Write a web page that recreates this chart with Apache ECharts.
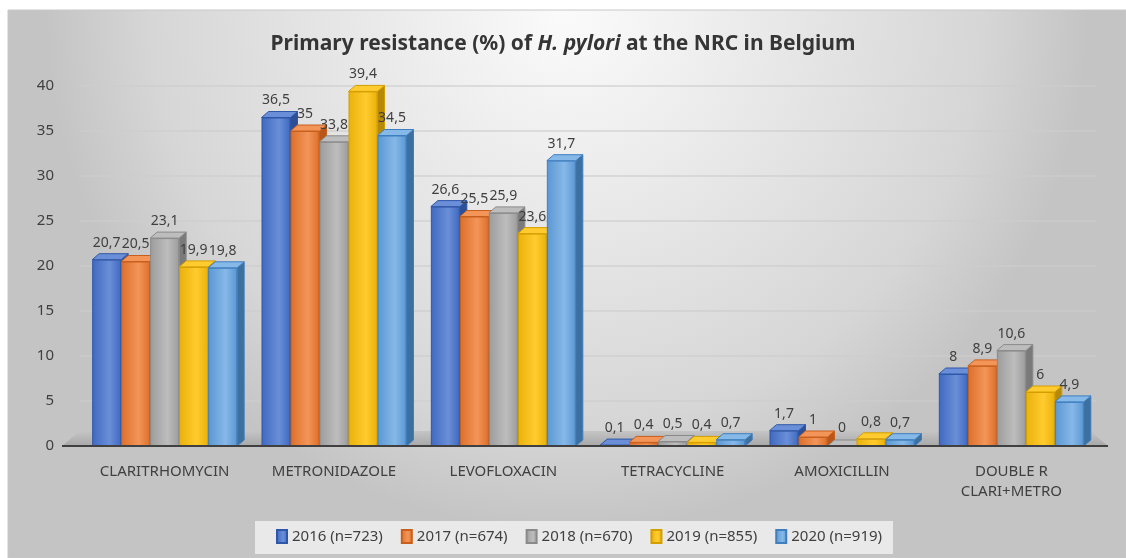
<!DOCTYPE html>
<html>
<head>
<meta charset="utf-8">
<script src="https://cdn.jsdelivr.net/npm/echarts@6/dist/echarts.min.js"></script>
<style>
  html, body { margin: 0; padding: 0; background: #fff; }
  #chart { width: 1126px; height: 558px; }
</style>
</head>
<body>
<div id="chart"></div>
<script>
// data
var categories = ['CLARITRHOMYCIN', 'METRONIDAZOLE', 'LEVOFLOXACIN', 'TETRACYCLINE', 'AMOXICILLIN', 'DOUBLE R\nCLARI+METRO'];
var seriesNames = ['2016 (n=723)', '2017 (n=674)', '2018 (n=670)', '2019 (n=855)', '2020 (n=919)'];
var v2016 = [20.7, 36.5, 26.6, 0.1, 1.7, 8];
var v2017 = [20.5, 35, 25.5, 0.4, 1, 8.9];
var v2018 = [23.1, 33.8, 25.9, 0.5, 0, 10.6];
var v2019 = [19.9, 39.4, 23.6, 0.4, 0.8, 6];
var v2020 = [19.8, 34.5, 31.7, 0.7, 0.7, 4.9];
var yTicks = [0, 5, 10, 15, 20, 25, 30, 35, 40];

var values = [v2016, v2017, v2018, v2019, v2020];
// front / light / edge / cap colours per year
var colors = [
    ['#3f69c0', '#6a8fd8', '#2f57a8', '#2c4f96'],
    ['#dc6f2a', '#f39559', '#c85f1c', '#b9561a'],
    ['#9c9c9c', '#bdbdbd', '#8a8a8a', '#7a7a7a'],
    ['#eab10a', '#ffcb2e', '#d49e00', '#b58a06'],
    ['#5b97d2', '#86b8e8', '#3f7fc0', '#3d6f9f']
];
var BAR_W = 29;
var DX = 7, DY = -6;
var FONT = 'Noto Sans, sans-serif';

var chart = echarts.init(document.getElementById('chart'));

function fmt(p) {
    return String(p.value).replace('.', ',');
}

var series = [];
values.forEach(function (arr, i) {
    series.push({
        name: seriesNames[i],
        type: 'bar',
        data: arr,
        barWidth: BAR_W,
        barGap: '0%',
        itemStyle: {
            color: new echarts.graphic.LinearGradient(0, 0, 1, 0, [
                { offset: 0, color: colors[i][0] },
                { offset: 0.6, color: colors[i][1] },
                { offset: 1, color: colors[i][0] }
            ]),
            borderColor: colors[i][2],
            borderWidth: 1
        },
        label: {
            show: true,
            position: 'top',
            distance: 10,
            formatter: fmt,
            color: '#404040',
            fontSize: 14,
            fontFamily: FONT
        },
        z: 3
    });
    // top and side faces for the 3d look
    series.push({
        name: seriesNames[i],
        type: 'custom',
        data: arr.map(function (v, k) { return [k, v]; }),
        z: 2,
        silent: true,
        renderItem: function (params, api) {
            var top = api.coord([api.value(0), api.value(1)]);
            var base = api.coord([api.value(0), 0]);
            var x0 = top[0] + (i - 2.5) * BAR_W;
            var x1 = x0 + BAR_W;
            var yt = top[1], yb = base[1];
            return {
                type: 'group',
                children: [
                    {
                        type: 'polygon',
                        shape: { points: [[x1, yt], [x1 + DX, yt + DY], [x1 + DX, yb + DY], [x1, yb]] },
                        style: { fill: colors[i][3], stroke: colors[i][2], lineWidth: 1 }
                    },
                    {
                        type: 'polygon',
                        shape: { points: [[x0, yt], [x0 + DX, yt + DY], [x1 + DX, yt + DY], [x1, yt]] },
                        style: { fill: colors[i][1], stroke: colors[i][2], lineWidth: 1 }
                    }
                ]
            };
        }
    });
});

var GRID_L = 80, GRID_R = 30, GRID_T = 86, GRID_B = 112;

option = {
    backgroundColor: '#ffffff',
    color: colors.map(function (c) { return c[0]; }),
    graphic: [
        {
            type: 'rect',
            z: -10,
            silent: true,
            shape: { x: 8, y: 10, width: 1118, height: 548 },
            style: {
                fill: new echarts.graphic.RadialGradient(0.5, 0.0, 0.95, [
                    { offset: 0, color: '#fbfbfb' },
                    { offset: 0.45, color: '#e6e6e6' },
                    { offset: 0.8, color: '#d6d6d6' },
                    { offset: 1, color: '#c4c4c4' }
                ]),
                stroke: '#c8c8c8',
                lineWidth: 1
            }
        },
        {
            type: 'rect',
            z: -5,
            silent: true,
            shape: { x: 255, y: 521, width: 638, height: 33 },
            style: { fill: '#e9e9e9' }
        },
        {
            // floor of the plot
            type: 'polygon',
            z: 1,
            silent: true,
            shape: { points: [[62, 558 - GRID_B], [80, 558 - GRID_B - 15], [1090, 558 - GRID_B - 15], [1108, 558 - GRID_B]] },
            style: {
                fill: new echarts.graphic.LinearGradient(0, 0, 0, 1, [
                    { offset: 0, color: '#c4c4c4' },
                    { offset: 1, color: '#a8a8a8' }
                ])
            }
        },
        {
            type: 'line',
            z: 4,
            silent: true,
            shape: { x1: 62, y1: 558 - GRID_B, x2: 1108, y2: 558 - GRID_B },
            style: { stroke: '#404040', lineWidth: 2 }
        }
    ],
    title: {
        text: '{n|Primary resistance (%) of }{i|H. pylori}{n| at the NRC in Belgium}',
        left: 'center',
        top: 29,
        textStyle: {
            rich: {
                n: { fontSize: 21, fontWeight: 'bold', color: '#353535', fontFamily: FONT },
                i: { fontSize: 21, fontWeight: 'bold', fontStyle: 'italic', color: '#353535', fontFamily: FONT }
            }
        }
    },
    legend: {
        data: seriesNames,
        bottom: 9,
        left: 271,
        itemWidth: 10,
        itemHeight: 13,
        itemGap: 18,
        icon: 'rect',
        textStyle: {
            color: '#404040',
            fontSize: 15,
            fontFamily: FONT
        }
    },
    grid: {
        left: GRID_L,
        right: GRID_R,
        top: GRID_T,
        bottom: GRID_B,
        containLabel: false
    },
    xAxis: {
        type: 'category',
        data: categories,
        axisTick: { show: false },
        axisLine: { show: false },
        axisLabel: {
            color: '#404040',
            fontSize: 15,
            margin: 16,
            lineHeight: 20,
            fontFamily: FONT
        }
    },
    yAxis: {
        type: 'value',
        min: yTicks[0],
        max: yTicks[yTicks.length - 1],
        interval: 5,
        axisLine: { show: false },
        axisTick: { show: false },
        axisLabel: {
            color: '#404040',
            fontSize: 15,
            margin: 26,
            fontFamily: FONT
        },
        splitLine: { lineStyle: { color: 'rgba(205,205,205,0.8)', width: 1.5 } }
    },
    series: series
};

chart.setOption(option);

window.addEventListener('resize', function () {
    chart.resize();
});
</script>
</body>
</html>
